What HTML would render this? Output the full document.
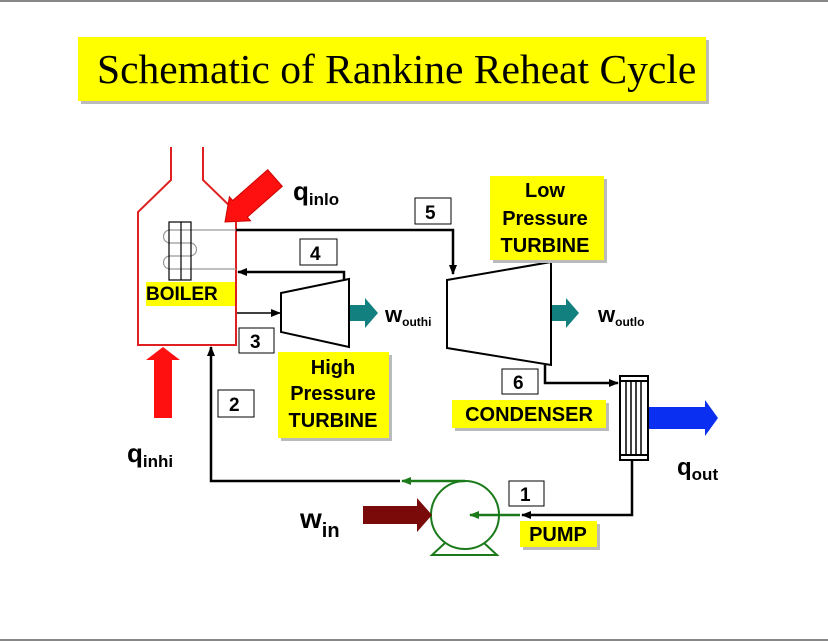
<!DOCTYPE html>
<html><head><meta charset="utf-8"><style>
html,body{margin:0;padding:0;background:#fff}
svg{display:block}
text{font-family:"Liberation Sans",Arial,sans-serif;font-weight:bold}
</style></head><body>
<svg width="828" height="642" viewBox="0 0 828 642" xmlns="http://www.w3.org/2000/svg">
<defs>
<marker id="ab" markerWidth="10" markerHeight="8" refX="9" refY="4" orient="auto" markerUnits="userSpaceOnUse"><path d="M0,0 L10,4 L0,8 Z" fill="#000"/></marker>
<marker id="ag" markerWidth="10" markerHeight="8" refX="9" refY="4" orient="auto" markerUnits="userSpaceOnUse"><path d="M0,0 L10,4 L0,8 Z" fill="#1a7a1a"/></marker>
</defs>
<line x1="0" y1="1" x2="828" y2="1" stroke="#888" stroke-width="2"/>
<line x1="0" y1="640" x2="828" y2="640" stroke="#888" stroke-width="2"/>
<!-- title -->
<rect x="81" y="40" width="628" height="64" fill="#bbb"/>
<rect x="78" y="37" width="628" height="64" fill="#ffff00"/>
<text x="97" y="83" style="font-family:'Liberation Serif',serif;font-weight:normal" font-size="41.5">Schematic of Rankine Reheat Cycle</text>
<!-- boiler -->
<path d="M171,147 L171,180 L138,212 L138,345 L236,345 L236,212 L203,180 L203,147" fill="none" stroke="#e02020" stroke-width="2"/>
<!-- coil -->
<path d="M236,230 L170,230 A6,6 0 0 0 170,243 L190,243 A6,6 0 0 1 190,256 L170,256 A6,6 0 0 0 170,269 L236,269" fill="none" stroke="#999" stroke-width="1.2"/>
<rect x="169" y="222" width="22" height="58" fill="none" stroke="#000" stroke-width="1.2"/>
<line x1="181" y1="222" x2="181" y2="280" stroke="#000" stroke-width="1.2"/>
<rect x="146" y="282" width="89" height="24" fill="#ffff00"/>
<text x="146" y="300" font-size="19">BOILER</text>
<!-- qinlo arrow -->
<path d="M267.7,169.7 L282.3,186.3 L247.3,217.1 L250.6,220.8 L225,222 L229.4,196.8 L232.7,200.5 Z" fill="#ff1010" stroke="#c00" stroke-width="1"/>
<text x="293" y="200" font-size="26">q<tspan font-size="17" dy="5">inlo</tspan></text>
<!-- line 5 -->
<path d="M236,230 L453,230 L453,274" fill="none" stroke="#000" stroke-width="2.5" marker-end="url(#ab)"/>
<rect x="415" y="198" width="36" height="26" fill="#fff" stroke="#000"/>
<text x="425" y="219" font-size="19">5</text>
<!-- line 4 -->
<path d="M344,280 L344,272 L238,272" fill="none" stroke="#000" stroke-width="2.5" marker-end="url(#ab)"/>
<rect x="300" y="239" width="37" height="26" fill="#fff" stroke="#000"/>
<text x="310" y="260" font-size="19">4</text>
<!-- line 3 -->
<line x1="237" y1="313" x2="280" y2="313" stroke="#000" stroke-width="1.5" marker-end="url(#ab)"/>
<rect x="239" y="328" width="35" height="25" fill="#fff" stroke="#000"/>
<text x="250" y="348" font-size="19">3</text>
<!-- HP turbine -->
<path d="M281,293 L349,279 L349,347 L281,332 Z" fill="#fff" stroke="#000" stroke-width="2"/>
<path d="M350,305 L365,305 L365,298 L378,313 L365,328 L365,321 L350,321 Z" fill="#138080"/>
<text x="385" y="322" font-size="22">w<tspan font-size="12" dy="4">outhi</tspan></text>
<rect x="281" y="355" width="111" height="86" fill="#bbb"/>
<rect x="278" y="352" width="111" height="86" fill="#ffff00"/>
<text x="333" y="374" font-size="20" text-anchor="middle">High</text>
<text x="333" y="400" font-size="20" text-anchor="middle">Pressure</text>
<text x="333" y="427" font-size="20" text-anchor="middle">TURBINE</text>
<!-- LP turbine -->
<path d="M447,280 L551,262 L551,365 L447,348 Z" fill="#fff" stroke="#000" stroke-width="2"/>
<path d="M552,305 L566,305 L566,298 L579,313 L566,328 L566,321 L552,321 Z" fill="#138080"/>
<text x="598" y="322" font-size="22">w<tspan font-size="12" dy="4">outlo</tspan></text>
<rect x="493" y="179" width="114" height="84" fill="#bbb"/>
<rect x="490" y="176" width="114" height="84" fill="#ffff00"/>
<text x="545" y="197" font-size="20" text-anchor="middle">Low</text>
<text x="545" y="225" font-size="20" text-anchor="middle">Pressure</text>
<text x="545" y="252" font-size="20" text-anchor="middle">TURBINE</text>
<!-- line 6 -->
<path d="M545,365 L545,383 L618,383" fill="none" stroke="#000" stroke-width="2.5" marker-end="url(#ab)"/>
<rect x="502" y="369" width="36" height="25" fill="#fff" stroke="#000"/>
<text x="513" y="389" font-size="19">6</text>
<rect x="455" y="403" width="154" height="28" fill="#bbb"/>
<rect x="452" y="400" width="154" height="28" fill="#ffff00"/>
<text x="529" y="421" font-size="20" text-anchor="middle">CONDENSER</text>
<!-- condenser -->
<rect x="620" y="376" width="28" height="84" fill="#fff" stroke="#000" stroke-width="2"/>
<line x1="620" y1="381" x2="648" y2="381" stroke="#000" stroke-width="2"/>
<line x1="620" y1="455" x2="648" y2="455" stroke="#000" stroke-width="2"/>
<line x1="626" y1="381" x2="626" y2="455" stroke="#000" stroke-width="1.5"/>
<line x1="631" y1="381" x2="631" y2="455" stroke="#000" stroke-width="1.5"/>
<line x1="636" y1="381" x2="636" y2="455" stroke="#000" stroke-width="1.5"/>
<line x1="641" y1="381" x2="641" y2="455" stroke="#000" stroke-width="1.5"/>
<path d="M649,407 L705,407 L705,400 L718,418 L705,436 L705,429 L649,429 Z" fill="#0b2ff0"/>
<text x="677" y="475" font-size="24">q<tspan font-size="17" dy="5">out</tspan></text>
<!-- pump -->
<path d="M445,543 L432,555 L497,555 L484,543" fill="none" stroke="#1a7a1a" stroke-width="2"/>
<circle cx="465" cy="515" r="34" fill="#fff" stroke="#1a7a1a" stroke-width="2"/>
<!-- condenser to pump -->
<path d="M632,460 L632,515 L522,515" fill="none" stroke="#000" stroke-width="2.5" marker-end="url(#ab)"/>
<line x1="520" y1="515" x2="470" y2="515" stroke="#1a7a1a" stroke-width="2.5" marker-end="url(#ag)"/>
<rect x="509" y="481" width="35" height="25" fill="#fff" stroke="#000"/>
<text x="520" y="501" font-size="19">1</text>
<rect x="523" y="524" width="77" height="26" fill="#bbb"/>
<rect x="520" y="521" width="77" height="26" fill="#ffff00"/>
<text x="558" y="541" font-size="20" text-anchor="middle">PUMP</text>
<line x1="465" y1="481" x2="402" y2="481" stroke="#1a7a1a" stroke-width="2.5" marker-end="url(#ag)"/>
<path d="M400,481 L211,481 L211,347" fill="none" stroke="#000" stroke-width="2.5" marker-end="url(#ab)"/>
<rect x="218" y="390" width="36" height="27" fill="#fff" stroke="#000"/>
<text x="229" y="411" font-size="19">2</text>
<path d="M363,506 L417,506 L417,498 L432,515 L417,532 L417,524 L363,524 Z" fill="#7a0a0a"/>
<text x="300" y="528" font-size="28">w<tspan font-size="20" dy="9">in</tspan></text>
<!-- qinhi -->
<path d="M154,418 L172,418 L172,360 L180,360 L163,347 L146,360 L154,360 Z" fill="#ff1010"/>
<text x="127" y="462" font-size="26">q<tspan font-size="17" dy="5">inhi</tspan></text>
</svg>
</body></html>
